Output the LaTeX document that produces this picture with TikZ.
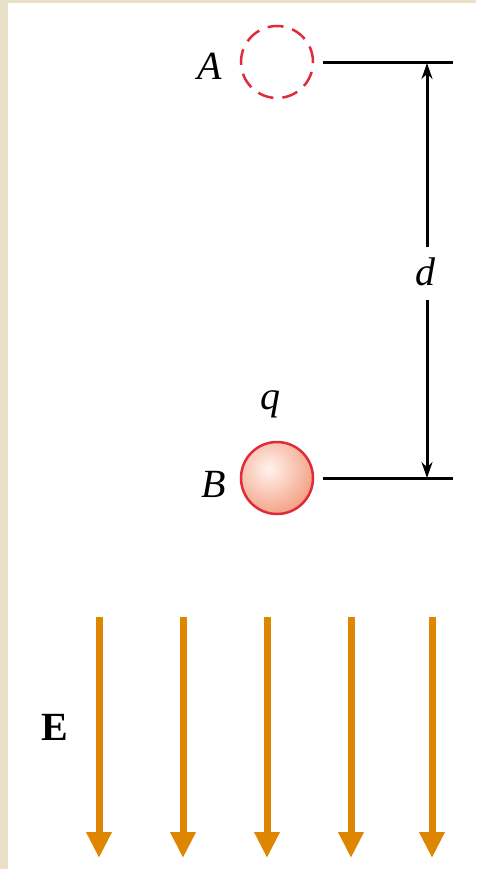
\documentclass[tikz,border=0pt]{standalone}
\usepackage{fontspec}
\setmainfont{Liberation Serif}
\usetikzlibrary{arrows.meta}
\definecolor{frame}{HTML}{E8E1C8}
\definecolor{efield}{HTML}{DF8600}
\definecolor{chargered}{HTML}{E02B3A}
\definecolor{ballin}{HTML}{FFF3EE}
\definecolor{ballout}{HTML}{F29B7C}
\tikzset{
  lbl/.style={font=\fontsize{40}{40}\selectfont\itshape, inner sep=0pt},
  dimline/.style={line width=3pt, black},
  eline/.style={line width=7pt, efield, -{Triangle[length=26pt,width=24pt]}},
}
\begin{document}
\begin{tikzpicture}[x=1pt,y=-1pt]
\useasboundingbox (0,0) rectangle (476,869);
\fill[frame] (0,0) rectangle (476,869);
\fill[white] (8,3) rectangle (476,869);
% charges
\node[circle, minimum size=72pt, draw=chargered, line width=2.5pt, dash pattern=on 16pt off 9pt, inner sep=0pt] (A) at (277,62) {};
\begin{scope}
  \clip (277,478) circle (36pt);
  \shade[inner color=ballin, outer color=ballout] (269,469) circle (50pt);
\end{scope}
\node[circle, minimum size=72pt, draw=chargered, line width=2.5pt, inner sep=0pt] (B) at (277,478) {};
\node[lbl] (la) at (210,66) {A};
\node[lbl] (lb) at (214,484) {B};
\node[lbl] (lq) at (270,404) {q};
\node[lbl] (ld) at (425,272) {d};
% dimension
\coordinate (t1) at (323,63);
\coordinate (t2) at (453,63);
\coordinate (b1) at (323,478);
\coordinate (b2) at (453,478);
\coordinate (vt) at (427,63);
\coordinate (vb) at (427,478);
\coordinate (g1) at (427,247);
\coordinate (g2) at (427,300);
\draw[dimline] (t1) -- (t2);
\draw[dimline] (b1) -- (b2);
\draw[dimline, {Stealth[length=16pt,width=11pt]}-] (vt) -- (g1);
\draw[dimline, -{Stealth[length=16pt,width=11pt]}] (g2) -- (vb);
% field
\foreach \x/\n in {99/1,183/2,267/3,351/4,432/5}{
  \coordinate (s\n) at (\x,617);
  \coordinate (e\n) at (\x,858);
  \draw[eline] (s\n) -- (e\n);
}
\node[font=\fontsize{40}{40}\selectfont\bfseries, inner sep=0pt] (E) at (55,727) {E};
\end{tikzpicture}
\end{document}
